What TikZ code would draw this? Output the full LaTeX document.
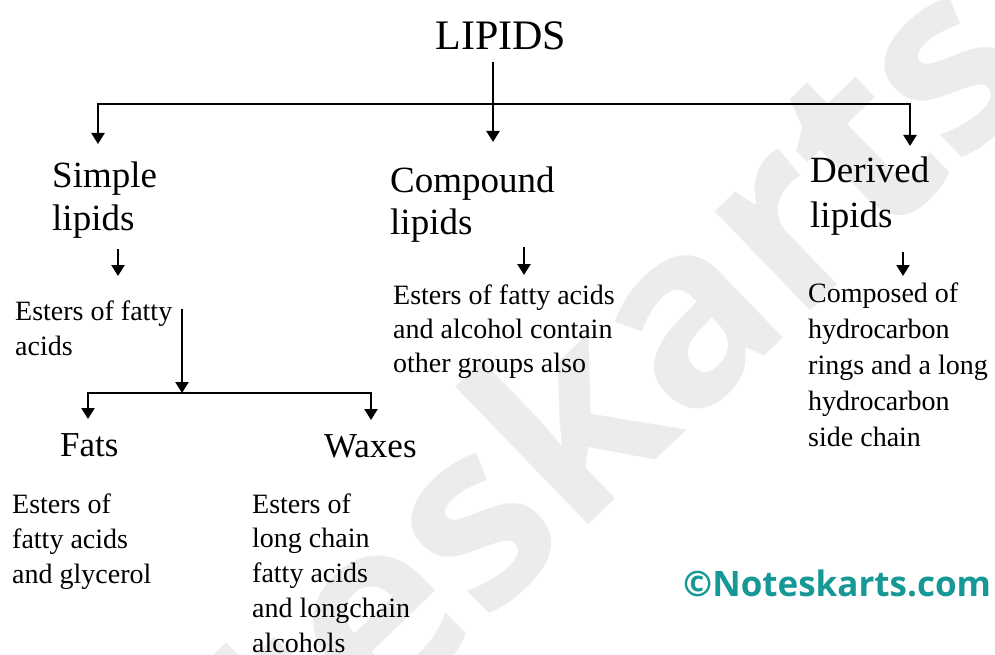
\documentclass[tikz,border=0pt]{standalone}
\usepackage{fontspec}
\setmainfont{Liberation Serif}
\newfontfamily\logofont{Open Sans}
\usetikzlibrary{arrows.meta}
\definecolor{logoteal}{RGB}{22,152,150}
\definecolor{wmark}{RGB}{236,236,236}
\begin{document}
\begin{tikzpicture}[x=1pt,y=-1pt,
  ln/.style={line width=2.3pt, line join=miter},
  arr/.style={ln, -{Triangle[width=13pt,length=11pt]}},
  txt/.style={inner sep=0pt, anchor=base west, align=left},
  head/.style={txt, font=\fontsize{37}{43}\selectfont},
  desc/.style={txt, font=\fontsize{28}{35}\selectfont}]
\useasboundingbox (0,0) rectangle (995,655);
\clip (0,0) rectangle (995,655);
\fill[white] (0,0) rectangle (995,655);
% watermark
\node[rotate=44, anchor=base east, inner sep=0pt, text=wmark,
  font=\logofont\bfseries\fontsize{252}{252}\selectfont] (wm) at (1048,82) {Noteskarts};
% title
\node[inner sep=0pt, anchor=base, font=\fontsize{42}{42}\selectfont] (lipids) at (501,50) {LIPIDS};
% level 2 (base anchor = baseline of the last line)
\node[head] (simple) at (52,230) {Simple\\lipids};
\node[head, font=\fontsize{37}{42}\selectfont] (compound) at (390,234) {Compound\\lipids};
\node[head, font=\fontsize{37}{45}\selectfont] (derived) at (810,227) {Derived\\lipids};
% descriptions
\node[desc] (sdesc) at (15,355) {Esters of fatty\\acids};
\node[desc, font=\fontsize{28}{34}\selectfont] (cdesc) at (393,372) {Esters of fatty acids\\and alcohol contain\\other groups also};
\node[desc, font=\fontsize{28}{36}\selectfont] (ddesc) at (808,446) {Composed of\\hydrocarbon\\rings and a long\\hydrocarbon\\side chain};
% level 3
\node[txt, font=\fontsize{35}{35}\selectfont] (fats) at (60,456) {Fats};
\node[txt, font=\fontsize{35}{35}\selectfont] (waxes) at (324,457) {Waxes};
\node[desc] (fdesc) at (12,583) {Esters of\\fatty acids\\and glycerol};
\node[desc, font=\fontsize{28}{34.75}\selectfont] (wdesc) at (252,652) {Esters of\\long chain\\fatty acids\\and longchain\\alcohols};
% logo
\node[inner sep=0pt, anchor=base west, text=logoteal,
  font=\logofont\bfseries\fontsize{35}{35}\selectfont] (logo) at (683,596) {©Noteskarts.com};
% connectors
\coordinate (t0) at (493,62);
\coordinate (mid) at (493,104);
\coordinate (a1) at (98,144);
\coordinate (a2) at (493,142);
\coordinate (a3) at (910,146);
\draw[arr] (mid) -| (a1);
\draw[arr] (mid) -| (a3);
\draw[arr] (t0) -- (a2);
\coordinate (s0) at (118,249);
\coordinate (s1) at (118,276);
\coordinate (c0) at (524,247);
\coordinate (c1) at (524,275);
\coordinate (d0) at (903,252);
\coordinate (d1) at (903,276);
\draw[arr] (s0) -- (s1);
\draw[arr] (c0) -- (c1);
\draw[arr] (d0) -- (d1);
\coordinate (e0) at (182,309);
\coordinate (m2) at (182,393);
\coordinate (f1) at (88,419);
\coordinate (w1) at (371,420);
\draw[arr] (e0) -- (m2);
\draw[arr] (m2) -| (f1);
\draw[arr] (m2) -| (w1);
\end{tikzpicture}
\end{document}
